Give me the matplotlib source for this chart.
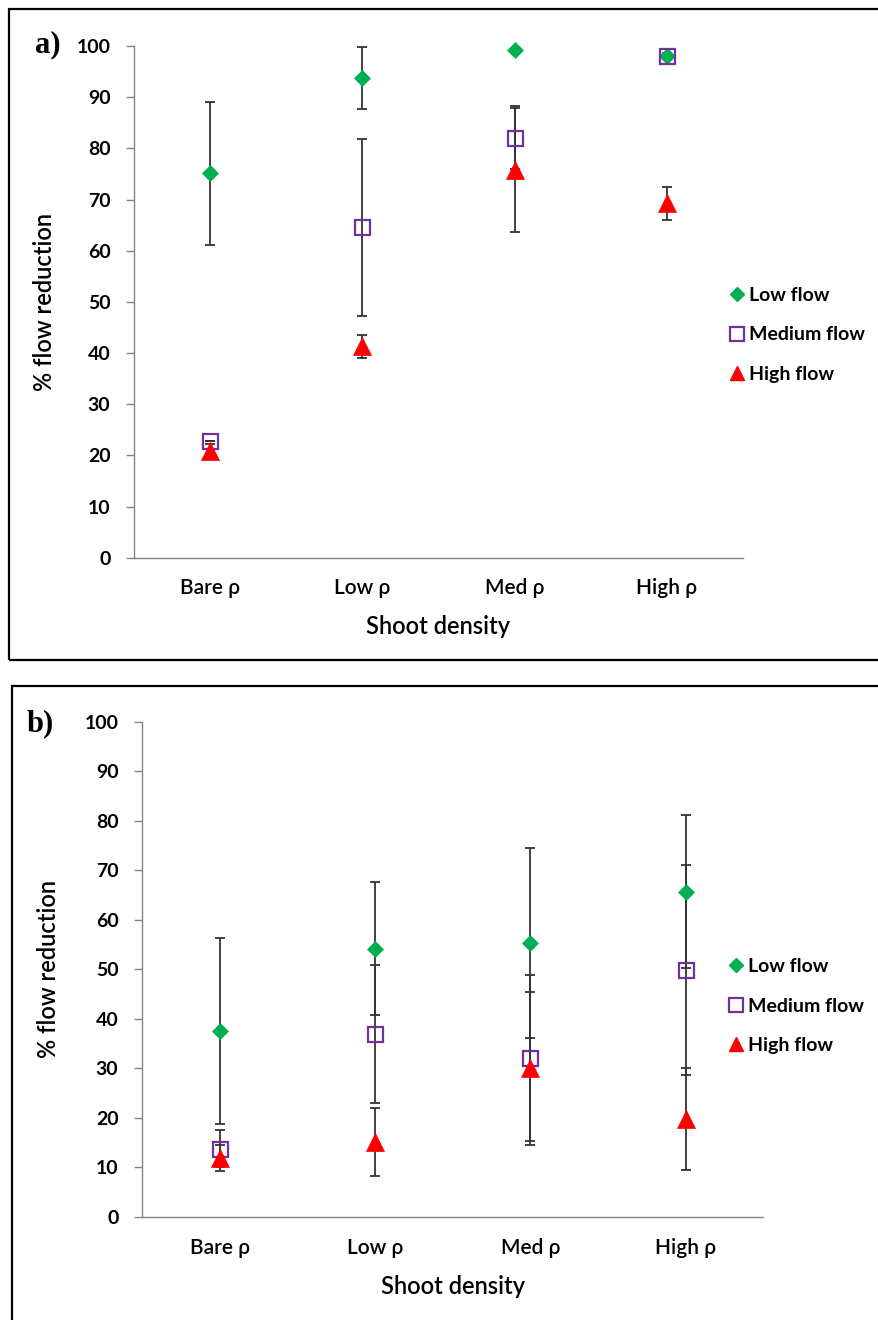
import numpy as np
import matplotlib
matplotlib.use("Agg")
import matplotlib.pyplot as plt
from matplotlib.lines import Line2D
from matplotlib.patches import Rectangle

# categories and series
categories = ["Bare \u03c1", "Low \u03c1", "Med \u03c1", "High \u03c1"]
series_names = ["Low flow", "Medium flow", "High flow"]

# panel a)
a_low = [75.1, 93.8, 99.3, 98.0]
a_low_err = [14.0, 6.1, 0.0, 0.4]
a_med = [22.9, 64.6, 82.1, 98.0]
a_med_err = [0.0, 17.3, 6.1, 0.6]
a_high = [20.8, 41.3, 75.8, 69.25]
a_high_err = [1.4, 2.3, 12.1, 3.25]

# panel b)
b_low = [37.5, 54.2, 55.4, 65.7]
b_low_err = [18.8, 13.4, 19.2, 15.5]
b_med = [13.8, 36.9, 32.1, 49.8]
b_med_err = [3.7, 13.9, 16.8, 21.2]
b_high = [11.9, 15.2, 30.0, 19.75]
b_high_err = [2.7, 6.9, 15.5, 10.25]

W, H = 879, 1320
DPI = 100
FONT = "Lato"
GREEN = "#00B050"
PURPLE = "#7030A0"
RED = "#FF0000"
AXCOL = "#868686"
ERRCOL = "#333333"

plt.rcParams["font.family"] = [FONT, "DejaVu Sans"]

fig = plt.figure(figsize=(W / DPI, H / DPI), dpi=DPI)


def fbox(x0, y0, x1, y1):
    # pixel box (top-left origin) -> figure fraction rect
    return [x0 / W, 1 - y1 / H, (x1 - x0) / W, (y1 - y0) / H]


def panel(rect, frame, tag, tagpos, data, legpos):
    # outer frame of the panel
    fx0, fy0, fx1, fy1 = frame
    fig.patches.append(Rectangle((fx0 / W, 1 - fy1 / H), (fx1 - fx0) / W, (fy1 - fy0) / H,
                                 transform=fig.transFigure, fill=False, ec="black",
                                 lw=1.6, clip_on=False))
    fig.text(tagpos[0] / W, 1 - tagpos[1] / H, tag, family="Liberation Serif",
             weight="bold", fontsize=22, ha="left", va="baseline")

    ax = fig.add_axes(fbox(*rect))
    x = np.arange(1, len(categories) + 1)
    styles = [dict(marker="D", ms=8, color=GREEN, mec=GREEN, mew=0.5),
              dict(marker="s", ms=10.8, color=PURPLE, mfc="none", mec=PURPLE, mew=1.6),
              dict(marker="^", ms=12.5, color=RED, mec=RED, mew=0.5)]
    for (vals, errs), st in zip(data, styles):
        ax.errorbar(x, vals, yerr=errs, fmt="none", ecolor=ERRCOL, elinewidth=1.3,
                    capsize=3.6, capthick=1.3, zorder=2)
        ax.plot(x, vals, ls="none", zorder=3, clip_on=False, **st)

    ax.set_xlim(0.5, 4.5)
    ax.set_ylim(0, 100)
    ax.set_yticks(range(0, 101, 10))
    ax.set_xticks(x)
    ax.set_xticklabels(categories)
    for s in ["top", "right"]:
        ax.spines[s].set_visible(False)
    for s in ["left", "bottom"]:
        ax.spines[s].set_color(AXCOL)
        ax.spines[s].set_linewidth(1.0)
    ax.tick_params(axis="y", direction="out", length=6, width=1.0, color=AXCOL,
                   pad=11, labelsize=14)
    ax.tick_params(axis="x", length=0, pad=22, labelsize=15)
    for lbl in ax.get_yticklabels():
        lbl.set_fontweight("bold")
    for lbl in ax.get_xticklabels():
        lbl.set_va("center")
        lbl.set_fontweight("semibold")

    axw = rect[2] - rect[0]
    axh = rect[3] - rect[1]
    ax.set_xlabel("Shoot density", fontsize=17, va="center", weight="semibold")
    ax.xaxis.set_label_coords(0.5, -69 / axh)
    ax.set_ylabel("% flow reduction", fontsize=17, va="center", weight="semibold")
    ax.yaxis.set_label_coords((legpos[2] - rect[0]) / axw, 0.5)

    handles = [Line2D([], [], ls="none", marker="D", ms=7, color=GREEN),
               Line2D([], [], ls="none", marker="s", ms=9.5, mfc="none", mec=PURPLE, mew=1.6),
               Line2D([], [], ls="none", marker="^", ms=10, color=RED)]
    fig.legend(handles, series_names, loc="center left",
               bbox_to_anchor=(legpos[0] / W, 1 - legpos[1] / H),
               frameon=False, borderpad=0, borderaxespad=0, handlelength=0.7,
               handletextpad=0.3, labelspacing=1.17,
               prop=dict(family=FONT, size=14, weight="bold"))
    return ax


panel((134, 46, 743, 557.7), (9, 9, 900, 660), "a)", (35, 52),
      [(a_low, a_low_err), (a_med, a_med_err), (a_high, a_high_err)], (730, 335, 44))
panel((142, 721.7, 763.5, 1217), (12, 686, 900, 1340), "b)", (27, 731),
      [(b_low, b_low_err), (b_med, b_med_err), (b_high, b_high_err)], (729, 1006, 49))

fig.savefig("out.png", dpi=DPI)
